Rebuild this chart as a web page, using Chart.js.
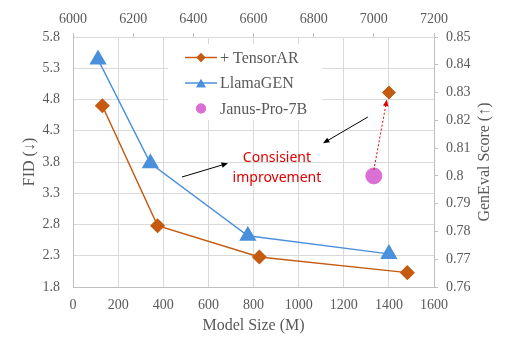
<!DOCTYPE html>
<html>
<head>
<meta charset="utf-8">
<script src="https://cdn.jsdelivr.net/npm/chart.js@4.4.0/dist/chart.umd.min.js"></script>
<style>
  html, body { margin: 0; padding: 0; background: #fff; }
  #wrap { width: 510px; height: 353px; }
</style>
</head>
<body>
<div id="wrap"><canvas id="chart" width="510" height="353"></canvas></div>
<script>
// Datos
const llamaSizes = [111, 343, 775, 1400];
const llamaFID = [5.44, 3.78, 2.62, 2.33];
const tensorSizes = [130, 375, 826, 1482];
const tensorFID = [4.70, 2.78, 2.28, 2.03];
const janusSize = [7000];
const janusScore = [0.800];
const janusTensorSize = [7050];
const janusTensorScore = [0.830];

const labelTensor = '+ TensorAR';
const labelLlama = 'LlamaGEN';
const labelJanus = 'Janus-Pro-7B';
const noteLines = ['Consisient', 'improvement'];
const rightTitle = 'GenEval Score (↑)';

const colTensor = '#C55A11';
const colLlama = '#4A90DC';
const colJanus = '#DA70D6';
const textGray = '#595959';
const gridGray = '#D9D9D9';
const serif = "'Liberation Serif', 'Times New Roman', serif";

function toPoints(xs, ys) {
  return xs.map((x, i) => ({ x: x, y: ys[i] }));
}

function arrow(ctx, x1, y1, x2, y2, color, dashed) {
  const ang = Math.atan2(y2 - y1, x2 - x1);
  const head = 7;
  ctx.save();
  ctx.strokeStyle = color;
  ctx.fillStyle = color;
  ctx.lineWidth = 1;
  if (dashed) ctx.setLineDash([2, 2]);
  ctx.beginPath();
  ctx.moveTo(x1, y1);
  ctx.lineTo(x2 - Math.cos(ang) * head * 0.8, y2 - Math.sin(ang) * head * 0.8);
  ctx.stroke();
  ctx.setLineDash([]);
  ctx.beginPath();
  ctx.moveTo(x2, y2);
  ctx.lineTo(x2 - head * Math.cos(ang - 0.4), y2 - head * Math.sin(ang - 0.4));
  ctx.lineTo(x2 - head * Math.cos(ang + 0.4), y2 - head * Math.sin(ang + 0.4));
  ctx.closePath();
  ctx.fill();
  ctx.restore();
}

// Leyenda dentro del área de la gráfica, título derecho y anotaciones
const overlayPlugin = {
  id: 'overlay',
  afterDatasetsDraw(chart) {
    const ctx = chart.ctx;
    const area = chart.chartArea;
    const sx = chart.scales.x, sy = chart.scales.y;
    const sx2 = chart.scales.x2, sy2 = chart.scales.y2;

    // leyenda
    ctx.save();
    ctx.fillStyle = '#fff';
    ctx.fillRect(168, 44, 154, 76);
    const rows = [
      { label: labelTensor, color: colTensor, style: 'rectRot', r: 4.5, line: true },
      { label: labelLlama, color: colLlama, style: 'triangle', r: 5.5, line: true },
      { label: labelJanus, color: colJanus, style: 'circle', r: 5, line: false }
    ];
    ctx.font = '16px ' + serif;
    ctx.textBaseline = 'middle';
    rows.forEach((row, i) => {
      const y = 57.5 + i * 25.5;
      if (row.line) {
        ctx.strokeStyle = row.color;
        ctx.lineWidth = 1.5;
        ctx.beginPath();
        ctx.moveTo(185, y);
        ctx.lineTo(217, y);
        ctx.stroke();
      }
      ctx.fillStyle = row.color;
      ctx.beginPath();
      Chart.helpers.drawPoint(ctx, { pointStyle: row.style, radius: row.r, borderWidth: 0 }, 201, row.style === 'triangle' ? y + 1.5 : y);
      ctx.fill();
      ctx.fillStyle = textGray;
      ctx.textAlign = 'left';
      ctx.fillText(row.label, 220, y + 1);
    });
    ctx.restore();

    // título del eje derecho (de abajo hacia arriba)
    ctx.save();
    ctx.translate(485, (area.top + area.bottom) / 2);
    ctx.rotate(-Math.PI / 2);
    ctx.fillStyle = textGray;
    ctx.font = '16px ' + serif;
    ctx.textAlign = 'center';
    ctx.textBaseline = 'middle';
    ctx.fillText(rightTitle, 0, 0);
    ctx.restore();

    // texto de la anotación
    ctx.save();
    ctx.fillStyle = '#E00000';
    ctx.font = "14px 'Comic Sans MS', 'Noto Sans', sans-serif";
    ctx.textAlign = 'center';
    ctx.textBaseline = 'middle';
    ctx.fillText(noteLines[0], sx.getPixelForValue(904), sy.getPixelForValue(3.86));
    ctx.fillText(noteLines[1], sx.getPixelForValue(904), sy.getPixelForValue(3.54));
    ctx.restore();

    // flechas negras
    arrow(ctx, sx.getPixelForValue(483), sy.getPixelForValue(3.56),
      sx.getPixelForValue(687), sy.getPixelForValue(3.78), '#000', false);
    arrow(ctx, sx.getPixelForValue(1307), sy.getPixelForValue(4.52),
      sx.getPixelForValue(1108), sy.getPixelForValue(4.10), '#000', false);

    // flecha roja punteada: Janus-Pro-7B -> + TensorAR
    arrow(ctx, sx2.getPixelForValue(janusSize[0]), sy2.getPixelForValue(janusScore[0]) - 6,
      sx2.getPixelForValue(janusTensorSize[0]) - 2, sy2.getPixelForValue(janusTensorScore[0]) + 7, '#E00000', true);
  }
};

const ctx = document.getElementById('chart').getContext('2d');
new Chart(ctx, {
  type: 'scatter',
  data: {
    datasets: [
      {
        label: labelTensor,
        data: toPoints(tensorSizes, tensorFID),
        borderColor: colTensor,
        backgroundColor: colTensor,
        showLine: true,
        borderWidth: 1.5,
        pointStyle: 'rectRot',
        pointRadius: 6.5,
        xAxisID: 'x',
        yAxisID: 'y'
      },
      {
        label: labelLlama,
        data: toPoints(llamaSizes, llamaFID),
        borderColor: colLlama,
        backgroundColor: colLlama,
        showLine: true,
        borderWidth: 1.5,
        pointStyle: 'triangle',
        pointRadius: 8.5,
        xAxisID: 'x',
        yAxisID: 'y'
      },
      {
        label: labelJanus,
        data: toPoints(janusSize, janusScore),
        borderColor: colJanus,
        backgroundColor: colJanus,
        showLine: false,
        pointStyle: 'circle',
        pointRadius: 8,
        xAxisID: 'x2',
        yAxisID: 'y2'
      },
      {
        label: labelTensor + ' 7B',
        data: toPoints(janusTensorSize, janusTensorScore),
        borderColor: colTensor,
        backgroundColor: colTensor,
        showLine: false,
        pointStyle: 'rectRot',
        pointRadius: 6.5,
        xAxisID: 'x2',
        yAxisID: 'y2'
      }
    ]
  },
  options: {
    responsive: false,
    animation: false,
    layout: { padding: 0 },
    plugins: {
      legend: { display: false },
      tooltip: { enabled: false }
    },
    scales: {
      x: {
        type: 'linear',
        position: 'bottom',
        min: 0,
        max: 1600,
        afterFit: s => { s.height = 66; },
        ticks: { stepSize: 200, color: textGray, font: { family: serif, size: 14 }, padding: 10, maxRotation: 0, callback: v => String(v) },
        grid: { color: gridGray, drawTicks: false },
        border: { color: '#BFBFBF' },
        title: { display: true, text: 'Model Size (M)', color: textGray, font: { family: serif, size: 16 }, padding: { top: 4, bottom: 18 } }
      },
      x2: {
        type: 'linear',
        position: 'top',
        min: 6000,
        max: 7200,
        afterFit: s => { s.height = 37; },
        ticks: { stepSize: 200, color: textGray, font: { family: serif, size: 14 }, padding: 5, maxRotation: 0, callback: v => String(v) },
        grid: { drawOnChartArea: false, drawTicks: true, tickLength: 4, color: '#BFBFBF' },
        border: { color: gridGray }
      },
      y: {
        type: 'linear',
        position: 'left',
        min: 1.8,
        max: 5.8,
        afterFit: s => { s.width = 73; },
        ticks: { stepSize: 0.5, color: textGray, font: { family: serif, size: 14 }, padding: 13, callback: v => v.toFixed(1) },
        grid: { color: gridGray, drawTicks: false },
        border: { color: '#BFBFBF' },
        title: { display: true, text: 'FID (↓)', color: textGray, font: { family: serif, size: 16 }, padding: { top: 20, bottom: 0 } }
      },
      y2: {
        type: 'linear',
        position: 'right',
        min: 0.76,
        max: 0.85,
        afterFit: s => { s.width = 76; },
        ticks: { stepSize: 0.01, color: textGray, font: { family: serif, size: 14 }, padding: 8, callback: v => String(+v.toFixed(2)) },
        grid: { drawOnChartArea: false, drawTicks: true, tickLength: 4, color: '#BFBFBF' },
        border: { color: '#BFBFBF' }
      }
    }
  },
  plugins: [overlayPlugin]
});
</script>
</body>
</html>
